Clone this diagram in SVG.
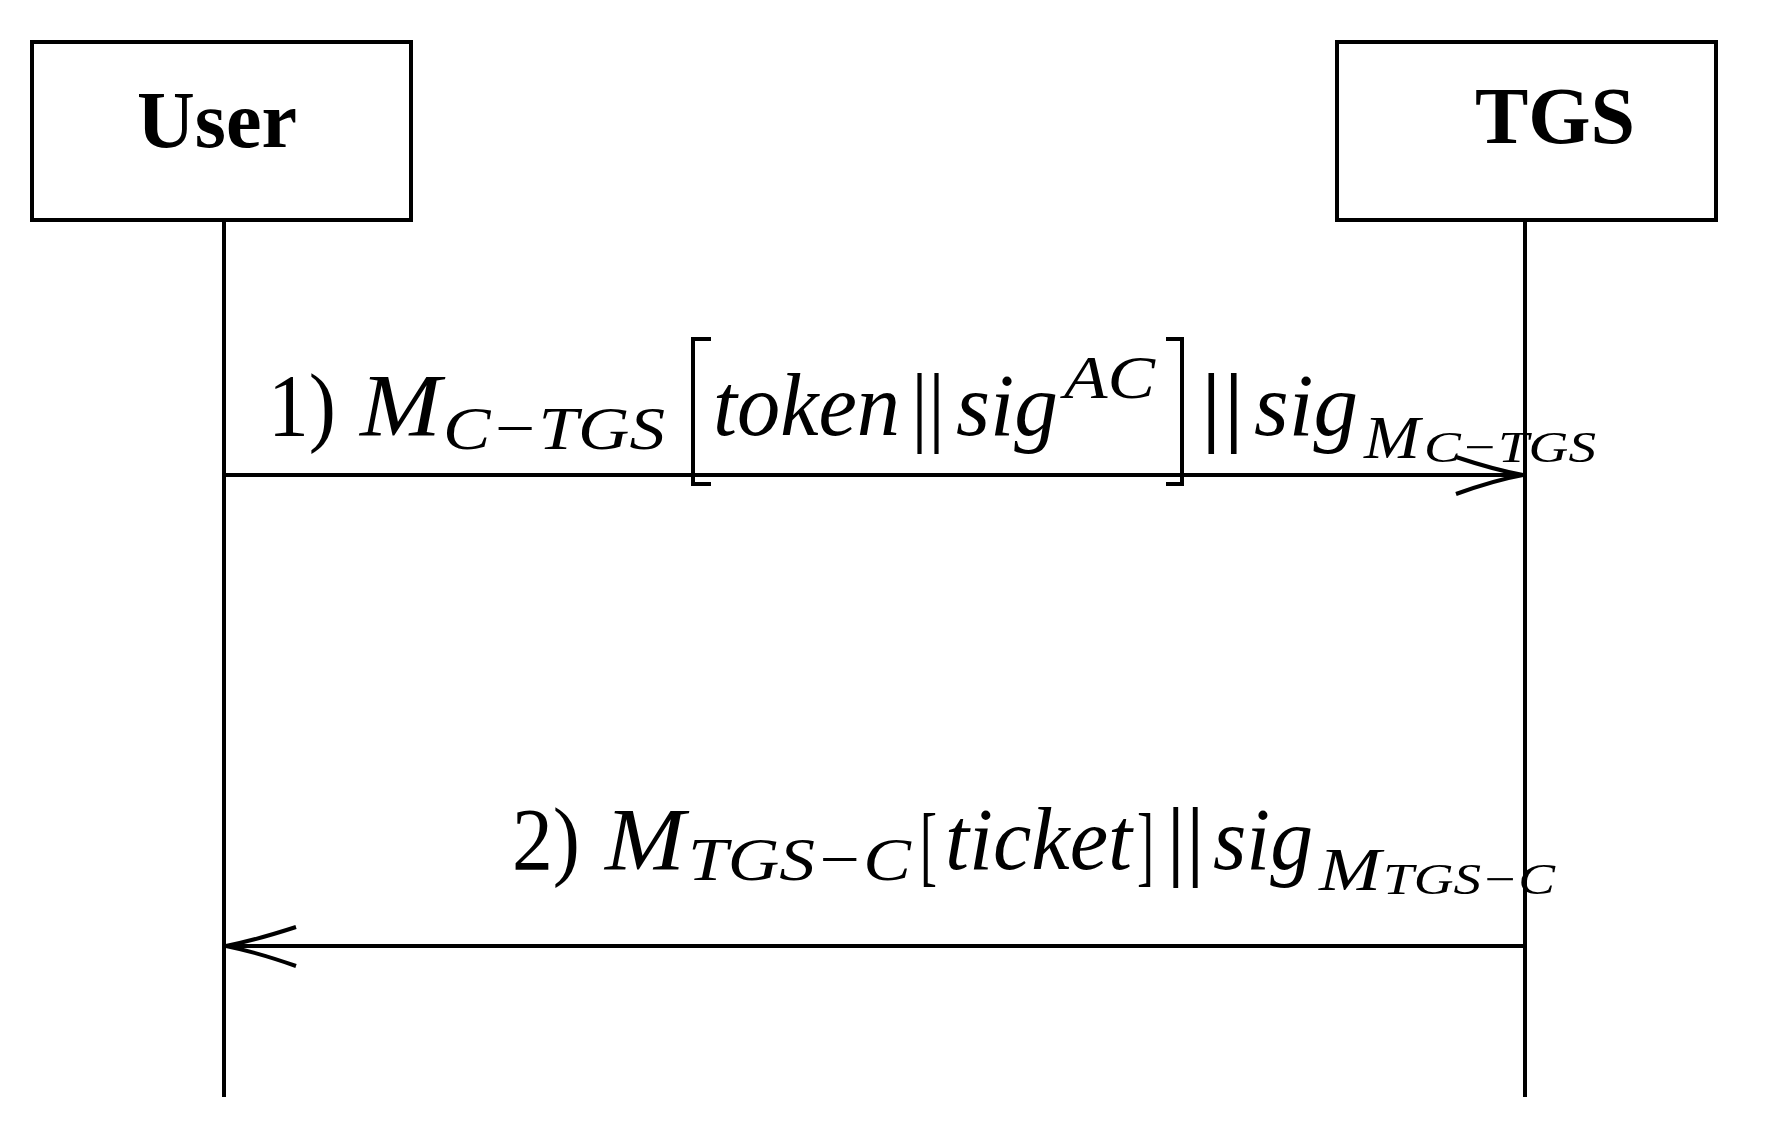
<svg xmlns="http://www.w3.org/2000/svg" width="1766" height="1128" viewBox="0 0 1766 1128">
<style>
.box{fill:#fff;stroke:#000;stroke-width:4}
.ln{stroke:#000;stroke-width:4;fill:none}
.h{font-family:"Liberation Serif",serif;font-weight:bold;font-size:80px;text-anchor:middle}
.t{font-family:"Liberation Serif",serif;font-size:88px}
.i{font-style:italic}
.s{font-size:62px}
.ss{font-size:44px}
</style>
<rect width="1766" height="1128" fill="#fff"/>
<g id="user"><rect class="box" x="32" y="42" width="379" height="178"/><text class="h" x="217" y="147">User</text></g>
<g id="tgs"><rect class="box" x="1337" y="42" width="379" height="178"/><text class="h" x="1555" y="143">TGS</text></g>
<g id="connectors">
<line class="ln" x1="224" y1="220" x2="224" y2="1097"/>
<line class="ln" x1="1525" y1="220" x2="1525" y2="1097"/>
<line class="ln" x1="224" y1="475" x2="1525" y2="475"/>
<path class="ln" d="M1456,457 Q1495,470 1523,475 Q1495,480 1456,494"/>
<line class="ln" x1="1525" y1="946" x2="224" y2="946"/>
<path class="ln" d="M296,927 Q256,940 226,946 Q256,952 296,966"/>
</g>
<g id="label1" class="t">
<text x="268" y="435" textLength="68" lengthAdjust="spacingAndGlyphs">1)</text>
<text class="i" x="360" y="435" textLength="81" lengthAdjust="spacingAndGlyphs">M</text>
<text class="i s" x="443" y="449" textLength="222" lengthAdjust="spacingAndGlyphs">C−TGS</text>
<path class="ln" d="M711,339 H693 V484 H711" stroke-width="3"/>
<text class="i" x="713" y="435" textLength="187" lengthAdjust="spacingAndGlyphs">token</text>
<text x="911" y="435" textLength="34" lengthAdjust="spacingAndGlyphs">||</text>
<text class="i" x="956" y="435" textLength="102" lengthAdjust="spacingAndGlyphs">sig</text>
<text class="i s" x="1064" y="398" textLength="91" lengthAdjust="spacingAndGlyphs">AC</text>
<path class="ln" d="M1166,339 H1182 V484 H1166" stroke-width="3"/>
<text x="1200" y="435" textLength="45" lengthAdjust="spacingAndGlyphs">||</text>
<text class="i" x="1254" y="435" textLength="104" lengthAdjust="spacingAndGlyphs">sig</text>
<text class="i s" x="1364" y="458" textLength="56" lengthAdjust="spacingAndGlyphs">M</text>
<text class="i ss" x="1424" y="462" textLength="172" lengthAdjust="spacingAndGlyphs">C−TGS</text>
</g>
<g id="label2" class="t">
<text x="512" y="869" textLength="68" lengthAdjust="spacingAndGlyphs">2)</text>
<text class="i" x="605" y="869" textLength="80" lengthAdjust="spacingAndGlyphs">M</text>
<text class="i s" x="688" y="880" textLength="223" lengthAdjust="spacingAndGlyphs">TGS−C</text>
<text x="920" y="875" textLength="17" lengthAdjust="spacingAndGlyphs">[</text>
<text class="i" x="945" y="869" textLength="187" lengthAdjust="spacingAndGlyphs">ticket</text>
<text x="1137" y="875" textLength="17" lengthAdjust="spacingAndGlyphs">]</text>
<text x="1166" y="869" textLength="39" lengthAdjust="spacingAndGlyphs">||</text>
<text class="i" x="1213" y="869" textLength="100" lengthAdjust="spacingAndGlyphs">sig</text>
<text class="i s" x="1319" y="890" textLength="62" lengthAdjust="spacingAndGlyphs">M</text>
<text class="i ss" x="1383" y="894" textLength="172" lengthAdjust="spacingAndGlyphs">TGS−C</text>
</g>
</svg>
